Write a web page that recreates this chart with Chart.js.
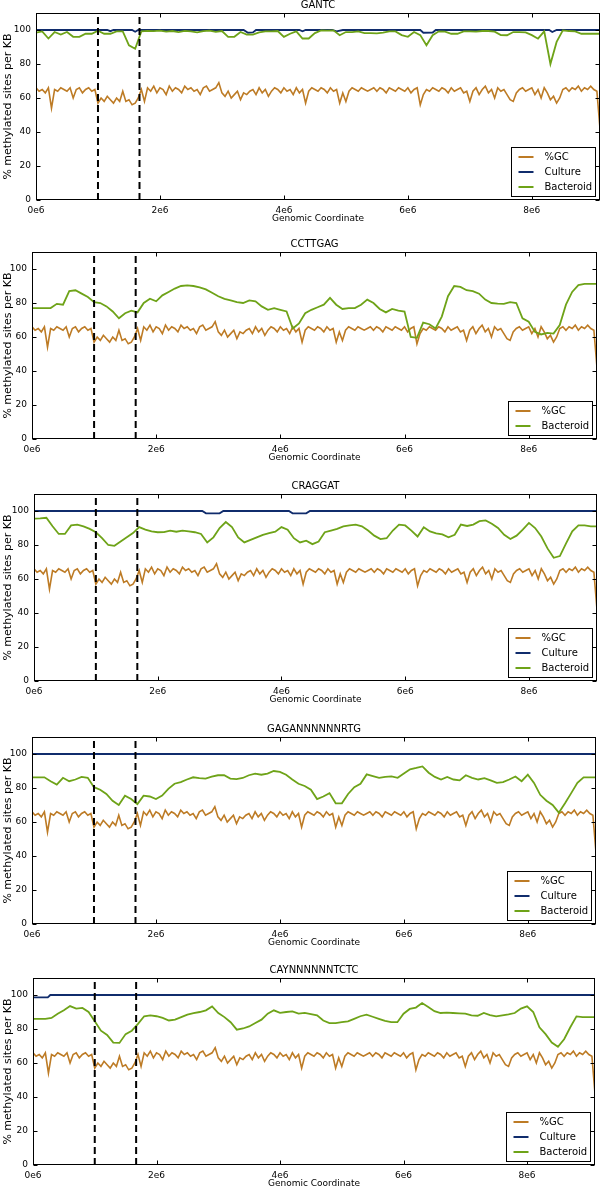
<!DOCTYPE html>
<html>
<head>
<meta charset="utf-8">
<script src="https://cdn.jsdelivr.net/npm/chart.js@4.4.1/dist/chart.umd.min.js"></script>
<style>
  html, body { margin: 0; padding: 0; background: #fff; }
  #wrap { position: relative; width: 601px; height: 1190px; overflow: hidden; }
  #wrap canvas { position: absolute; left: 0; }
</style>
</head>
<body>
<div id="wrap"></div>
<script>
// ---- data ----
const MOTIFS = ['GANTC', 'CCTTGAG', 'CRAGGAT', 'GAGANNNNNNRTG', 'CAYNNNNNNTCTC'];
const SERIES_LABELS = ['%GC', 'Culture', 'Bacteroid'];
const X_TICKS = [0, 2e6, 4e6, 6e6, 8e6];
const Y_TICKS = [0, 20, 40, 60, 80, 100];
const DIVIDERS_MB = [1.0, 1.67];   // dashed vertical markers
const X_MAX = 9.1e6;

// %GC per window (same genome in every panel), one value every 0.05 Mb
const GC_STEP = 0.05e6;
const GC_PCT = [
  66, 64, 65, 63, 66, 54, 65, 64, 66, 65,
  64, 66, 60, 65, 66, 63, 65, 66, 64, 65,
  57, 60, 58, 61, 59, 57, 60, 58, 64, 58,
  59, 56, 57, 60, 65, 58, 66, 64, 67, 63,
  66, 65, 62, 67, 64, 66, 65, 63, 67, 65,
  66, 64, 65, 62, 66, 67, 64, 65, 66, 69,
  63, 61, 64, 60, 62, 64, 59, 63, 62, 64,
  65, 62, 66, 63, 65, 61, 64, 66, 65, 63,
  66, 64, 65, 62, 66, 63, 65, 57, 64, 66,
  65, 64, 66, 65, 63, 66, 64, 65, 57, 63,
  58, 64, 66, 65, 64, 66, 65, 64, 65, 66,
  64, 66, 65, 63, 66, 65, 64, 66, 65, 64,
  66, 63, 65, 66, 56, 62, 65, 64, 66, 65,
  64, 66, 65, 63, 66, 64, 65, 66, 63, 64,
  58, 64, 66, 62, 65, 67, 63, 65, 60, 66,
  64, 65, 62, 59, 58, 63, 65, 66, 64, 65,
  66, 62, 65, 60, 66, 63, 59, 61, 57, 60,
  65, 66, 64, 66, 65, 67, 64, 66, 65, 67,
  65, 64, 42
];

// Bacteroid methylation, one value every 0.1 Mb
const BACT_STEP = 0.1e6;
const BACT_GANTC = [
  98.5, 99.2, 95, 98.8, 97.3, 98.8, 96, 96, 97.8, 97.8,
  99.6, 97.8, 97.8, 99.2, 99.2, 91, 89, 99.2, 99.5, 99.3,
  99.6, 99, 99.4, 98.8, 99.5, 99.2, 98.6, 99.4, 99.6, 98.9,
  99.4, 96, 96, 98.8, 97.3, 97.3, 98.6, 99.2, 99.2, 99.4,
  96, 97.8, 99.2, 95, 95, 98.2, 99.8, 99.6, 99.8, 96.9,
  98.8, 98.8, 99.2, 98.2, 98.2, 98, 98.4, 99.2, 99.2, 97,
  96, 98.8, 97, 91, 96.9, 99.2, 99, 97.8, 97.8, 99.2,
  99.2, 99, 99.4, 99.4, 99, 97, 96.9, 98.8, 98.8, 98.6,
  97, 94.9, 99.2, 80, 93, 99.8, 99.4, 99.2, 97.8, 97.8,
  97.8, 97.8
];
const BACT_CCTTGAG = [
  77, 77, 77, 77, 79.5, 79, 87, 87.5, 85.5, 83.5,
  80.5, 80, 78, 75, 71, 74, 75.5, 74.5, 80, 82.5,
  81, 84.5, 86.5, 88.5, 90, 90.4, 90, 89.2, 88, 86,
  84, 82.4, 81.5, 80.5, 80, 81.5, 81, 78, 76, 77,
  76, 75, 65, 68, 74, 76, 77.5, 79, 83, 79,
  76.5, 77, 77, 79, 82, 80, 76.5, 74.5, 76.5, 75.5,
  75, 60, 59.5, 68.5, 67.5, 65, 72, 84, 90, 89.5,
  87.5, 87, 85.5, 82, 80, 79.6, 79.5, 80.5, 80, 71,
  69, 63, 61.5, 62.4, 62, 67, 79, 86.5, 90.5, 91.2,
  91.2, 91.2
];
const BACT_CRAGGAT = [
  95.5, 95.7, 96, 91, 86.5, 86.5, 91.5, 92, 91, 89.5,
  87.5, 84, 80, 79.5, 82, 84.5, 87, 90.5, 89, 88,
  87.5, 87.6, 88.5, 87.8, 88.5, 88, 87.5, 86.5, 81.5, 84.5,
  90, 93.5, 90.5, 84.5, 81.5, 83, 84.5, 86, 87, 87.8,
  90.5, 89, 84, 81.5, 82.5, 80.5, 82, 87.5, 88.5, 89.5,
  91, 91.5, 92, 91, 88.5, 85.5, 83.5, 84, 88.5, 92,
  91.5, 88.5, 85, 90.5, 88, 86.8, 86.2, 84.5, 86, 92,
  91.2, 92, 94, 94.5, 92.5, 90, 86, 83.5, 85.5, 89,
  93, 90, 85, 78, 72.5, 73.5, 81, 88, 91.5, 91.5,
  91, 91
];
const BACT_GAGANNNNNNRTG = [
  86.3, 86.3, 86.3, 84, 82, 86, 84, 85, 86.5, 86,
  80.5, 79, 76.5, 72.5, 70, 75.5, 73.5, 70.5, 75.5, 75,
  73.5, 75.5, 79.5, 82.5, 83.5, 85, 86.3, 85.8, 85.5, 86.7,
  87.5, 87.5, 85.5, 85.2, 85.9, 87.5, 88.5, 87.8, 88.5, 90,
  89.5, 87.8, 85, 82.5, 81.2, 79, 73.5, 75, 77, 71,
  71, 76.5, 80.5, 82.5, 88, 87, 86, 86.5, 86.8, 86,
  88.5, 91, 91.8, 92.7, 89, 86.5, 85, 86.5, 85, 84.5,
  87.5, 86, 85, 85.8, 84.5, 83, 83.5, 85, 86.8, 84,
  87.8, 83, 76, 72.5, 70, 65.5, 71, 77, 83, 86.3,
  86.3, 86.3
];
const BACT_CAYNNNNNNTCTC = [
  85.9, 85.9, 85.9, 86.5, 89, 91, 93.5, 92, 92.4, 90,
  84.5, 79, 76.5, 72, 71.8, 77, 79, 83, 87.5, 88,
  87.5, 86.5, 85, 85.5, 87, 88.5, 89.4, 90, 91, 93.3,
  89.4, 87, 84, 79.6, 80.3, 81.5, 83.5, 85.5, 89, 91,
  89.5, 90, 90.4, 89, 89.5, 88.8, 88, 85, 83.5, 83.5,
  84, 84.5, 86, 87.5, 88.4, 87.2, 86, 84.8, 84, 84,
  89, 91.8, 92.6, 95.3, 93, 90.5, 89.4, 89.6, 89.4, 89.2,
  89, 88, 87.8, 89.4, 88.2, 87.4, 88, 88.6, 89.4, 92,
  93.3, 90, 81, 77, 72, 69.5, 74, 81, 87.4, 87,
  87, 87
];

// Culture methylation: breakpoints (Mb) and values
const CULTURE_GANTC_MB = [0, 1.15, 1.2, 1.25, 1.55, 1.6, 1.65, 3.35, 3.42, 3.5, 3.55, 4.25, 4.3, 4.35, 4.78, 4.85, 4.95, 6.2, 6.25, 6.4, 6.45, 8.28, 8.33, 8.4, 9.1];
const CULTURE_GANTC = [100, 100, 99.3, 100, 100, 99, 100, 100, 98.4, 98.6, 100, 100, 99.2, 100, 100, 99.2, 100, 100, 98.4, 98.5, 100, 100, 98.8, 100, 100];
const CULTURE_CRAGGAT_MB = [0, 2.72, 2.78, 3.0, 3.06, 4.12, 4.18, 4.4, 4.46, 9.1];
const CULTURE_CRAGGAT = [100, 100, 98.6, 98.6, 100, 100, 98.6, 98.6, 100, 100];
const CULTURE_GAGANNNNNNRTG_MB = [0, 9.1];
const CULTURE_GAGANNNNNNRTG = [100, 100];
const CULTURE_CAYNNNNNNTCTC_MB = [0, 0.24, 0.28, 9.1];
const CULTURE_CAYNNNNNNTCTC = [98.6, 98.6, 100, 100];

// ---- layout / style ----
const PANEL_BOXES = [
  { left: 36, right: 600, top: 13, bottom: 200 },
  { left: 32, right: 597, top: 252, bottom: 439 },
  { left: 34, right: 597, top: 494, bottom: 681 },
  { left: 32, right: 596, top: 737, bottom: 924 },
  { left: 33, right: 595, top: 978, bottom: 1165 }
];
const TITLE_SPACE = 20;
const XAXIS_SPACE = 30;
const COLORS = { gc: '#bd7b25', culture: '#102c6c', bact: '#6ea318' };
const FONT = "'DejaVu Sans', 'Liberation Sans', sans-serif";

const panels = [
  { bact: BACT_GANTC, culturePos: CULTURE_GANTC_MB, culture: CULTURE_GANTC },
  { bact: BACT_CCTTGAG },
  { bact: BACT_CRAGGAT, culturePos: CULTURE_CRAGGAT_MB, culture: CULTURE_CRAGGAT },
  { bact: BACT_GAGANNNNNNRTG, culturePos: CULTURE_GAGANNNNNNRTG_MB, culture: CULTURE_GAGANNNNNNRTG },
  { bact: BACT_CAYNNNNNNTCTC, culturePos: CULTURE_CAYNNNNNNTCTC_MB, culture: CULTURE_CAYNNNNNNTCTC }
];

const onGrid = (step, vals) => vals.map((v, i) => ({ x: i * step, y: v }));
const onPairs = (posMb, vals) => posMb.map((p, i) => ({ x: p * 1e6, y: vals[i] }));

// box around the plot + inward tick marks on all four sides
const frameTicks = {
  id: 'frameTicks',
  afterDatasetsDraw(chart) {
    const { ctx, chartArea: a, scales: { x, y } } = chart;
    const L = Math.round(a.left) + 0.5, R = Math.round(a.right) - 0.5;
    const T = Math.round(a.top) + 0.5, B = Math.round(a.bottom) - 0.5;
    ctx.save();
    ctx.strokeStyle = '#000';
    ctx.lineWidth = 1;
    ctx.beginPath();
    x.ticks.forEach(t => {
      const px = Math.round(x.getPixelForValue(t.value)) + 0.5;
      ctx.moveTo(px, B); ctx.lineTo(px, B - 4);
      ctx.moveTo(px, T); ctx.lineTo(px, T + 4);
    });
    y.ticks.forEach(t => {
      const py = Math.round(y.getPixelForValue(t.value)) + 0.5;
      ctx.moveTo(L, py); ctx.lineTo(L + 4, py);
      ctx.moveTo(R, py); ctx.lineTo(R - 4, py);
    });
    ctx.stroke();
    ctx.strokeRect(L, T, R - L, B - T);
    ctx.restore();
  }
};

// framed legend in the lower right corner of the plot
const boxLegend = {
  id: 'boxLegend',
  afterDraw(chart) {
    const items = chart.data.datasets.filter(d => d.inLegend);
    const { ctx, chartArea: a } = chart;
    const w = 84, row = 15, h = items.length * row + 4;
    const left = Math.round(a.right - 5 - w) + 0.5;
    const top = Math.round(a.bottom - 4 - h) + 0.5;
    ctx.save();
    ctx.fillStyle = '#fff';
    ctx.fillRect(left, top, w, h);
    ctx.strokeStyle = '#000';
    ctx.lineWidth = 1;
    ctx.strokeRect(left, top, w, h);
    ctx.font = '10px ' + FONT;
    ctx.textBaseline = 'middle';
    items.forEach((d, k) => {
      const cy = Math.round(top + 9 + k * row);
      ctx.strokeStyle = d.borderColor;
      ctx.lineWidth = 2;
      ctx.beginPath();
      ctx.moveTo(left + 7, cy);
      ctx.lineTo(left + 22, cy);
      ctx.stroke();
      ctx.fillStyle = '#000';
      ctx.fillText(d.label, left + 33, cy);
    });
    ctx.restore();
  }
};

const wrap = document.getElementById('wrap');

panels.forEach((p, i) => {
  const box = PANEL_BOXES[i];
  const H = box.bottom - box.top + TITLE_SPACE + XAXIS_SPACE;
  const canvas = document.createElement('canvas');
  canvas.width = 601;
  canvas.height = H;
  canvas.style.width = '601px';
  canvas.style.height = H + 'px';
  canvas.style.top = (box.top - TITLE_SPACE) + 'px';
  wrap.appendChild(canvas);

  const datasets = DIVIDERS_MB.map(m => ({
    data: [{ x: m * 1e6, y: 0 }, { x: m * 1e6, y: 110 }],
    borderColor: '#000',
    borderWidth: 2,
    borderDash: [7, 4],
    order: 0
  }));
  datasets.push({ label: SERIES_LABELS[0], inLegend: true, data: onGrid(GC_STEP, GC_PCT), borderColor: COLORS.gc, borderWidth: 1.6, order: 3 });
  if (p.culture) {
    datasets.push({ label: SERIES_LABELS[1], inLegend: true, data: onPairs(p.culturePos, p.culture), borderColor: COLORS.culture, borderWidth: 1.8, order: 2 });
  }
  datasets.push({ label: SERIES_LABELS[2], inLegend: true, data: onGrid(BACT_STEP, p.bact), borderColor: COLORS.bact, borderWidth: 1.8, order: 1 });

  new Chart(canvas, {
    type: 'line',
    data: { datasets },
    options: {
      responsive: false,
      animation: false,
      devicePixelRatio: 1,
      layout: { padding: { left: 0, right: 601 - box.right, top: 0, bottom: 0 } },
      elements: { point: { radius: 0 }, line: { tension: 0, fill: false } },
      scales: {
        x: {
          type: 'linear',
          min: 0,
          max: X_MAX,
          afterFit: s => { s.height = XAXIS_SPACE; },
          afterBuildTicks: s => { s.ticks = X_TICKS.map(v => ({ value: v })); },
          grid: { display: false, drawTicks: false, tickLength: 0 },
          border: { display: false },
          ticks: {
            autoSkip: false,
            maxRotation: 0,
            padding: 5,
            color: '#000',
            font: { family: FONT, size: 9 },
            callback: v => (v / 1e6) + 'e6'
          },
          title: {
            display: true,
            text: 'Genomic Coordinate',
            color: '#000',
            font: { family: FONT, size: 9 },
            padding: { top: 0, bottom: 6 }
          }
        },
        y: {
          min: 0,
          max: 110,
          afterFit: s => { s.width = box.left; },
          afterBuildTicks: s => { s.ticks = Y_TICKS.map(v => ({ value: v })); },
          grid: { display: false, drawTicks: false, tickLength: 0 },
          border: { display: false },
          ticks: {
            autoSkip: false,
            padding: 5,
            color: '#000',
            font: { family: FONT, size: 9 }
          },
          title: {
            display: true,
            text: '% methylated sites per KB',
            color: '#000',
            font: { family: FONT, size: 11 },
            padding: { top: 2, bottom: 0 }
          }
        }
      },
      plugins: {
        legend: { display: false },
        tooltip: { enabled: false },
        title: {
          display: true,
          fullSize: false,
          text: MOTIFS[i],
          color: '#000',
          font: { family: FONT, size: 10, weight: 'normal' },
          padding: { top: 6, bottom: 2 }
        }
      }
    },
    plugins: [frameTicks, boxLegend]
  });
});
</script>
</body>
</html>
